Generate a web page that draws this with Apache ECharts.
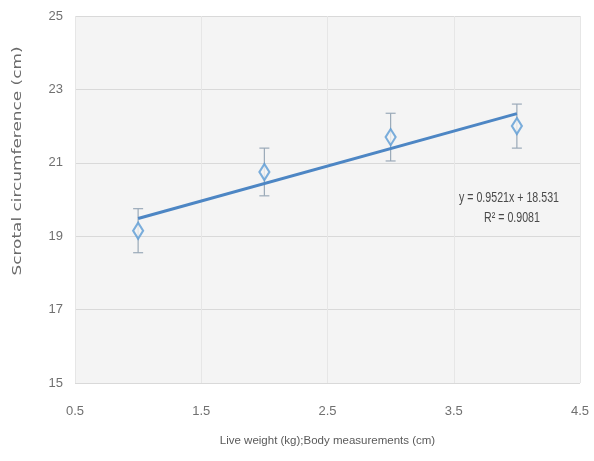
<!DOCTYPE html>
<html>
<head>
<meta charset="utf-8">
<script src="https://cdn.jsdelivr.net/npm/echarts@6/dist/echarts.min.js"></script>
<style>
  html, body { margin: 0; padding: 0; background: #ffffff; }
  #chart { width: 594px; height: 461px; }
</style>
</head>
<body>
<div id="chart"></div>
<script>
// Group positions on the x axis and scrotal circumference (cm) means with error (±)
const xValues = [1, 2, 3, 4];
const scMeans = [19.15, 20.75, 21.7, 22.0];
const scErrors = [0.6, 0.65, 0.65, 0.6];

// Linear trend reported on the chart
const trendSlope = 0.9521;
const trendIntercept = 18.531;
const trendR2 = 0.9081;

// Tick labels shown on each axis
const xTickLabels = ['0.5', '1.5', '2.5', '3.5', '4.5'];
const yTickLabels = ['15', '17', '19', '21', '23', '25'];

const xTitle = 'Live weight (kg);Body measurements (cm)';
const yTitle = 'Scrotal circumference (cm)';

const sans = "'Liberation Sans', Arial, sans-serif";

const points = xValues.map((x, i) => [x, scMeans[i]]);
const errorBars = xValues.map((x, i) => [x, scMeans[i] - scErrors[i], scMeans[i] + scErrors[i]]);
const xFirst = xValues[0], xLast = xValues[xValues.length - 1];
const trendLine = [
  [xFirst, trendIntercept + trendSlope * xFirst],
  [xLast, trendIntercept + trendSlope * xLast]
];

const chart = echarts.init(document.getElementById('chart'), null, { renderer: 'canvas' });

chart.setOption({
  animation: false,
  backgroundColor: '#ffffff',
  grid: {
    left: 75, right: 14, top: 16, bottom: 78,
    show: true, backgroundColor: '#f4f4f4', borderWidth: 0
  },
  xAxis: {
    type: 'value',
    min: 0.5, max: 4.5, interval: 0.5,
    name: xTitle,
    nameLocation: 'middle',
    nameGap: 52,
    nameTextStyle: { fontFamily: sans, fontSize: 11.5, color: '#5a5a5a' },
    axisLine: { show: false },
    axisTick: { show: false },
    axisLabel: {
      margin: 22,
      fontFamily: sans, fontSize: 13, color: '#707070',
      formatter: v => {
        const s = v.toFixed(1);
        return xTickLabels.includes(s) ? s : '';
      }
    },
    splitLine: { show: true, lineStyle: { color: ['#e6e6e6', 'rgba(0,0,0,0)'], width: 1 } }
  },
  yAxis: {
    type: 'value',
    min: 15, max: 25, interval: 1,
    axisLine: { show: false },
    axisTick: { show: false },
    axisLabel: {
      margin: 12,
      fontFamily: sans, fontSize: 13, color: '#707070',
      formatter: v => {
        const s = String(Math.round(v));
        return yTickLabels.includes(s) && Math.abs(v - Math.round(v)) < 1e-6 ? s : '';
      }
    },
    splitLine: { show: true, lineStyle: { color: ['#d9d9d9', 'rgba(0,0,0,0)'], width: 1 } }
  },
  series: [
    {
      name: 'trend',
      type: 'line',
      data: trendLine,
      symbol: 'none',
      lineStyle: { color: '#4d86c4', width: 3 },
      z: 3
    },
    {
      name: 'error',
      type: 'custom',
      data: errorBars,
      renderItem: (params, api) => {
        const x = api.value(0);
        const lo = api.coord([x, api.value(1)]);
        const hi = api.coord([x, api.value(2)]);
        const cap = 5;
        const style = { stroke: '#9aa9b8', lineWidth: 1.2, fill: null };
        return {
          type: 'group',
          children: [
            { type: 'line', shape: { x1: lo[0], y1: lo[1], x2: hi[0], y2: hi[1] }, style },
            { type: 'line', shape: { x1: lo[0] - cap, y1: lo[1], x2: lo[0] + cap, y2: lo[1] }, style },
            { type: 'line', shape: { x1: hi[0] - cap, y1: hi[1], x2: hi[0] + cap, y2: hi[1] }, style }
          ]
        };
      },
      z: 2
    },
    {
      name: 'mean',
      type: 'scatter',
      data: points,
      symbol: 'diamond',
      symbolSize: [10, 16],
      itemStyle: { color: '#f4f4f4', borderColor: '#5b9bd5', borderWidth: 2.2 },
      z: 4
    }
  ],
  graphic: [
    {
      // vertical axis title, stretched along its reading direction
      type: 'text',
      x: 18, y: 161,
      rotation: Math.PI / 2,
      scaleX: 1.3,
      style: {
        x: 0, y: 0,
        text: yTitle,
        font: "13px 'DejaVu Sans', sans-serif",
        fill: '#6a6a6a',
        align: 'center',
        verticalAlign: 'middle'
      }
    },
    {
      type: 'text',
      x: 509, y: 198,
      scaleX: 0.76,
      style: {
        x: 0, y: 0,
        text: 'y = ' + trendSlope + 'x + ' + trendIntercept,
        font: '14px ' + sans,
        fill: '#4a4a4a',
        align: 'center',
        verticalAlign: 'middle'
      }
    },
    {
      type: 'text',
      x: 512, y: 218,
      scaleX: 0.76,
      style: {
        x: 0, y: 0,
        text: 'R² = ' + trendR2,
        font: '14px ' + sans,
        fill: '#4a4a4a',
        align: 'center',
        verticalAlign: 'middle'
      }
    }
  ]
});
</script>
</body>
</html>
